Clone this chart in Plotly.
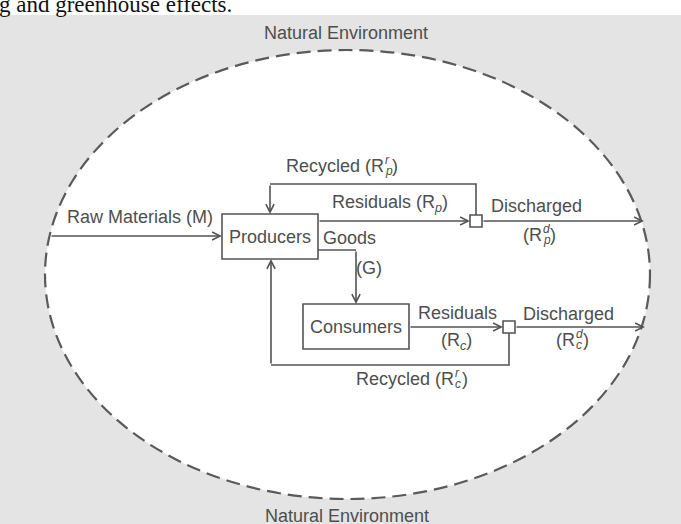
import plotly.graph_objects as go

W, H = 681, 524

# ---------------- data (labels) ----------------
caption_fragment = "g and greenhouse effects."
env_labels = ["Natural Environment", "Natural Environment"]
node_labels = ["Producers", "Consumers"]
flow_labels = ["Raw Materials (M)", "Goods", "(G)",
               "Residuals (R<sub><i>p</i></sub>)", "Discharged",
               "Residuals", "(R<sub><i>c</i></sub>)", "Discharged"]
# stacked labels: (prefix, superscript, subscript)
stacked_labels = [("Recycled (R", "r", "p"), ("(R", "d", "p"),
                  ("Recycled (R", "r", "c"), ("(R", "d", "c")]

# ---------------- layout geometry (positions / styles) ----------------
LINE = "#545454"
TXT = "#4e4e4e"
BG = "#e4e4e4"
FONT = "Liberation Sans"
FS = 18

env_pos = [(346, 33), (347, 516)]
node_boxes = [(222, 214, 318, 259), (303, 304, 409, 349)]
flow_pos = [(140, 217), (349, 238), (369, 268), (390, 203), (536, 206),
            (457, 313), (456, 341), (568, 314)]
stacked_pos = [(384, 166), (542, 235), (454, 379), (575, 340)]  # (x of sub/sup, y center)
junctions = [(476, 221), (509, 327)]
JS = 6  # half size of junction squares

# polyline segments (no arrow)
paths = [
    [(476, 215), (476, 184), (270, 184)],          # producer recycle loop
    [(318, 250), (356, 250)],                      # goods
    [(509, 333), (509, 365), (271, 365)],          # consumer recycle loop
]
# arrows: (tail, head)
arrows = [
    ((50, 236), (222, 236)),     # raw materials
    ((270, 184), (270, 214)),    # recycled into producers
    ((318, 221), (470, 221)),    # residuals producers
    ((482, 221), (644, 221)),    # discharged producers
    ((356, 250), (356, 304)),    # goods into consumers
    ((409, 327), (503, 327)),    # residuals consumers
    ((515, 327), (645, 327)),    # discharged consumers
    ((271, 365), (271, 259)),    # recycled into producers (bottom)
]

fig = go.Figure()
fig.add_trace(go.Scatter(x=[], y=[], mode="lines", hoverinfo="skip"))

shapes = []
# top white strip of the scanned page
shapes.append(dict(type="rect", xref="x", yref="y", x0=-5, x1=W + 5, y0=-5, y1=15,
                   fillcolor="white", line=dict(width=0), layer="below"))
# environment ellipse
shapes.append(dict(type="circle", xref="x", yref="y", x0=45, x1=650, y0=50, y1=499,
                   fillcolor="white", line=dict(color="#5a5a5a", width=2.2, dash="14px,7px"),
                   layer="below"))
for (x0, y0, x1, y1) in node_boxes:
    shapes.append(dict(type="rect", xref="x", yref="y", x0=x0, y0=y0, x1=x1, y1=y1,
                       fillcolor="white", line=dict(color=LINE, width=1.6)))
for pts in paths:
    d = "M " + " L ".join(f"{x},{y}" for x, y in pts)
    shapes.append(dict(type="path", xref="x", yref="y", path=d,
                       line=dict(color=LINE, width=1.6)))
for (cx, cy) in junctions:
    shapes.append(dict(type="rect", xref="x", yref="y", x0=cx - JS, x1=cx + JS,
                       y0=cy - JS, y1=cy + JS, fillcolor="white",
                       line=dict(color=LINE, width=1.6)))

ann = []
for (tail, head) in arrows:
    ann.append(dict(x=head[0], y=head[1], ax=tail[0], ay=tail[1], xref="x", yref="y",
                    axref="x", ayref="y", text="", showarrow=True, arrowhead=5,
                    arrowsize=1.0, arrowwidth=1.6, arrowcolor=LINE, standoff=0,
                    startstandoff=0))

def label(x, y, text, size=FS, xanchor="center", color=TXT, family=FONT):
    ann.append(dict(x=x, y=y, xref="x", yref="y", text=text, showarrow=False,
                    xanchor=xanchor, yanchor="middle", borderpad=0,
                    font=dict(family=family, size=size, color=color)))

for t, (x, y) in zip(env_labels, env_pos):
    label(x, y, t)
for t, (x0, y0, x1, y1) in zip(node_labels, node_boxes):
    label((x0 + x1) / 2, (y0 + y1) / 2, t)
for t, (x, y) in zip(flow_labels, flow_pos):
    label(x, y, t)
for (pre, sup, sub), (x, y) in zip(stacked_labels, stacked_pos):
    label(x + 1, y, pre, xanchor="right")
    label(x, y - 6, f"<i>{sup}</i>", size=12, xanchor="left")
    label(x, y + 5, f"<i>{sub}</i>", size=12, xanchor="left")
    label(x + 7, y, ")", xanchor="left")

# cut-off caption text at the very top of the scan
ann.append(dict(x=-2 / W, y=1 - 4.5 / H, xref="paper", yref="paper", text=caption_fragment,
                showarrow=False, xanchor="left", yanchor="middle", borderpad=0,
                font=dict(family="Liberation Serif", size=23, color="#111111")))

fig.update_layout(
    width=W, height=H, margin=dict(l=0, r=0, t=0, b=0),
    paper_bgcolor=BG, plot_bgcolor=BG, showlegend=False,
    xaxis=dict(range=[0, W], visible=False, fixedrange=True),
    yaxis=dict(range=[H, 0], visible=False, fixedrange=True),
    shapes=shapes, annotations=ann,
)

fig.write_html("out.html", config={"displayModeBar": False},
               post_script="document.body.style.margin='0';document.body.style.overflow='hidden';")
